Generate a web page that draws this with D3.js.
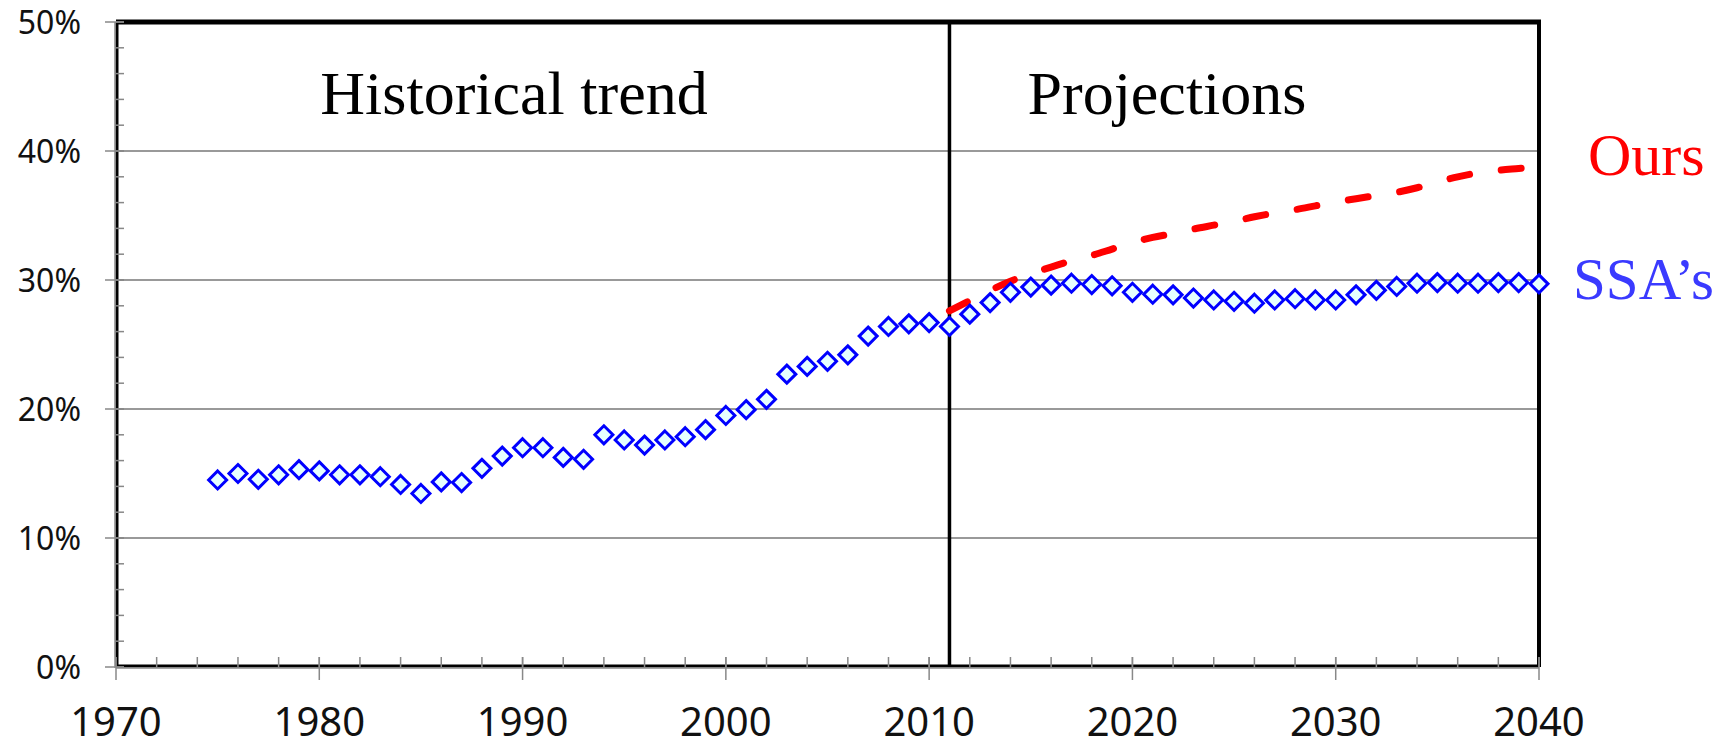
<!DOCTYPE html>
<html>
<head>
<meta charset="utf-8">
<script src="https://cdn.jsdelivr.net/npm/d3@7"></script>
<style>
  body { margin: 0; background: #fff; }
  svg { display: block; }
</style>
</head>
<body>
<svg id="chart" width="1734" height="739"></svg>
<script>
// SSA's series, one value per year 1975..2040 (percent)
var ssaYears = d3.range(1975, 2041);
var ssaValues = [14.5, 15.0, 14.55, 14.9, 15.3, 15.2, 14.9, 14.9, 14.75, 14.15,
  13.45, 14.35, 14.3, 15.4, 16.35, 17.0, 17.0, 16.25, 16.1, 18.0,
  17.6, 17.2, 17.6, 17.85, 18.4, 19.5, 19.95, 20.75, 22.7, 23.3,
  23.7, 24.2, 25.65, 26.4, 26.6, 26.7, 26.4, 27.35, 28.25, 29.05,
  29.45, 29.6, 29.75, 29.65, 29.55, 29.05, 28.9, 28.85, 28.6, 28.45,
  28.35, 28.2, 28.45, 28.55, 28.45, 28.45, 28.85, 29.2, 29.5, 29.75,
  29.8, 29.75, 29.75, 29.8, 29.8, 29.7];

// our projection, 2011..2040
var oursYears = d3.range(2011, 2041);
var oursValues = [27.6, 28.4, 29.2, 29.9, 30.5, 31.0, 31.5, 31.9, 32.4, 32.9,
  33.3, 33.6, 33.95, 34.25, 34.55, 34.9, 35.2, 35.45, 35.75, 36.05,
  36.3, 36.55, 36.8, 37.15, 37.6, 38.0, 38.3, 38.5, 38.65, 38.8];

var xTicks = [1970, 1980, 1990, 2000, 2010, 2020, 2030, 2040];
var yTicks = [0, 10, 20, 30, 40, 50];
var splitYear = 2011;

var svg = d3.select("#chart");
// plot area (note: "top" is taken by window.top, so use other names)
var pLeft = 116, pRight = 1539, pTop = 22, pBottom = 667;

var x = d3.scaleLinear().domain([1970, 2040]).range([pLeft, pRight]);
var y = d3.scaleLinear().domain([0, 50]).range([pBottom, pTop]);

// grid lines
svg.selectAll(".grid").data(yTicks.filter(function(d){ return d > 0 && d < 50; }))
  .enter().append("line")
  .attr("x1", pLeft).attr("x2", pRight)
  .attr("y1", function(d){ return y(d); }).attr("y2", function(d){ return y(d); })
  .style("stroke", "#999").style("stroke-width", 2);

// frame
svg.append("line").attr("x1", pLeft).attr("x2", pRight + 2).attr("y1", pTop).attr("y2", pTop)
  .style("stroke", "#000").style("stroke-width", 5);
svg.append("line").attr("x1", pRight).attr("x2", pRight).attr("y1", pTop).attr("y2", pBottom)
  .style("stroke", "#000").style("stroke-width", 4);
svg.append("line").attr("x1", pLeft + 1).attr("x2", pLeft + 1).attr("y1", pTop).attr("y2", pBottom)
  .style("stroke", "#000").style("stroke-width", 3);
svg.append("line").attr("x1", pLeft).attr("x2", pRight).attr("y1", pBottom - 1).attr("y2", pBottom - 1)
  .style("stroke", "#000").style("stroke-width", 3);

// split between history and projections
svg.append("line").attr("x1", x(splitYear)).attr("x2", x(splitYear)).attr("y1", pTop).attr("y2", pBottom)
  .style("stroke", "#000").style("stroke-width", 3.5);

// axes (gray, ticks drawn by hand so minor ones sit inside and major ones cross)
var yAxis = svg.append("g");
yAxis.append("line").attr("x1", pLeft - 1).attr("x2", pLeft - 1).attr("y1", pTop).attr("y2", pBottom + 1)
  .style("stroke", "#888").style("stroke-width", 1.5);
yAxis.selectAll(".ymin").data(d3.range(0, 51, 2)).enter().append("line")
  .attr("x1", pLeft).attr("x2", pLeft + 8)
  .attr("y1", function(d){ return y(d); }).attr("y2", function(d){ return y(d); })
  .style("stroke", "#888").style("stroke-width", 1.5);
yAxis.selectAll(".ymaj").data(yTicks).enter().append("line")
  .attr("x1", pLeft - 11).attr("x2", pLeft + 8)
  .attr("y1", function(d){ return y(d); }).attr("y2", function(d){ return y(d); })
  .style("stroke", "#888").style("stroke-width", 1.5);
yAxis.selectAll("text").data(yTicks).enter().append("text")
  .attr("x", 81).attr("y", function(d){ return y(d); })
  .attr("dy", "0.36em")
  .attr("text-anchor", "end")
  .style("font-family", "'Noto Sans', sans-serif").style("font-size", "32px")
  .style("fill", "#111")
  .text(function(d){ return d + "%"; });

var xAxis = svg.append("g");
xAxis.append("line").attr("x1", pLeft).attr("x2", pRight).attr("y1", pBottom + 1).attr("y2", pBottom + 1)
  .style("stroke", "#888").style("stroke-width", 1.5);
xAxis.selectAll(".xmin").data(d3.range(1970, 2041, 2)).enter().append("line")
  .attr("x1", function(d){ return x(d); }).attr("x2", function(d){ return x(d); })
  .attr("y1", pBottom - 10).attr("y2", pBottom)
  .style("stroke", "#888").style("stroke-width", 1.5);
xAxis.selectAll(".xmaj").data(xTicks).enter().append("line")
  .attr("x1", function(d){ return x(d); }).attr("x2", function(d){ return x(d); })
  .attr("y1", pBottom - 10).attr("y2", pBottom + 13)
  .style("stroke", "#888").style("stroke-width", 1.5);
// the labels run off the bottom edge in the original too
xAxis.selectAll("text").data(xTicks).enter().append("text")
  .attr("x", function(d){ return x(d); }).attr("y", 736)
  .attr("text-anchor", "middle")
  .style("font-family", "'Noto Sans', sans-serif").style("font-size", "40px")
  .style("fill", "#111")
  .text(function(d){ return d; });

// our projection: red dashed line
var line = d3.line()
  .x(function(d, i){ return x(oursYears[i]); })
  .y(function(d){ return y(d); })
  .curve(d3.curveMonotoneX);
svg.append("path").attr("d", line(oursValues))
  .style("fill", "none").style("stroke", "#ff0000").style("stroke-width", 7)
  .style("stroke-linecap", "round").style("stroke-dasharray", "20,32");

// SSA's: diamonds
svg.selectAll(".pt").data(ssaValues).enter().append("path")
  .attr("d", "M0,-9L9,0L0,9L-9,0Z")
  .attr("transform", function(d, i){ return "translate(" + x(ssaYears[i]) + "," + y(d) + ")"; })
  .style("fill", "#e6ffff").style("stroke", "#0000ff").style("stroke-width", 3);

// labels
var serif = "'Liberation Serif', 'Times New Roman', serif";
svg.append("text").attr("x", 514).attr("y", 114).attr("text-anchor", "middle")
  .style("font-family", serif).style("font-size", "62px").style("fill", "#000")
  .text("Historical trend");
svg.append("text").attr("x", 1167).attr("y", 114).attr("text-anchor", "middle")
  .style("font-family", serif).style("font-size", "62px").style("fill", "#000")
  .text("Projections");
svg.append("text").attr("x", 1588).attr("y", 175)
  .style("font-family", serif).style("font-size", "60px").style("fill", "#ff0000")
  .text("Ours");
svg.append("text").attr("x", 1573).attr("y", 299)
  .style("font-family", serif).style("font-size", "59px").style("fill", "#3a3aff")
  .text("SSA\u2019s");
</script>
</body>
</html>
